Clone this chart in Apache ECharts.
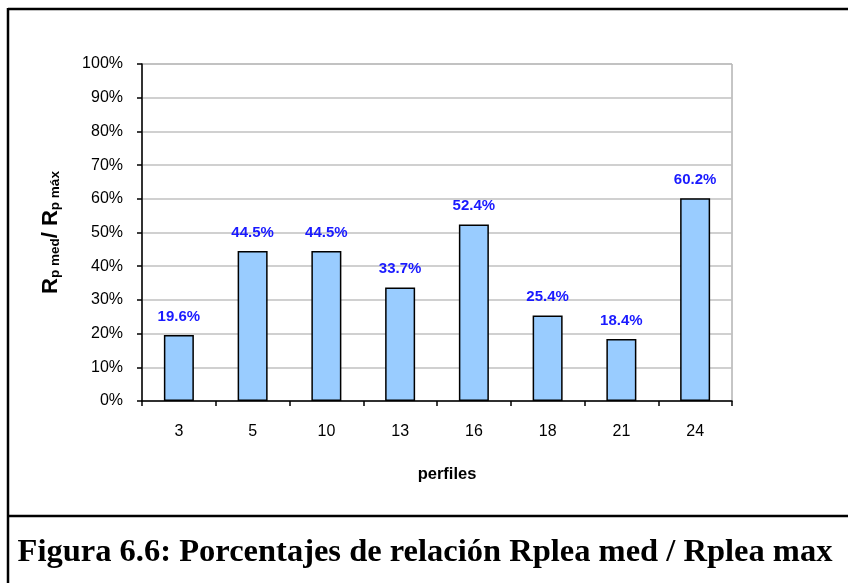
<!DOCTYPE html>
<html>
<head>
<meta charset="utf-8">
<script src="https://cdn.jsdelivr.net/npm/echarts@6/dist/echarts.min.js"></script>
<style>
html,body{margin:0;padding:0;background:#fff;}
#c{width:848px;height:583px;}
</style>
</head>
<body>
<div id="c"></div>
<script>
const categories = ['3', '5', '10', '13', '16', '18', '21', '24'];
const ratioValues = [19.6, 44.5, 44.5, 33.7, 52.4, 25.4, 18.4, 60.2];
const yTickMax = 100;
const yTickInterval = 10;
const xAxisTitle = 'perfiles';
const caption = 'Figura 6.6: Porcentajes de relación Rplea med / Rplea max';

const chart = echarts.init(document.getElementById('c'), null, {renderer: 'canvas'});
chart.setOption({
  animation: false,
  backgroundColor: '#ffffff',
  grid: {left: 142, top: 64, right: 116, bottom: 182, show: true, borderColor: '#8c8c8c', borderWidth: 1, backgroundColor: 'transparent'},
  xAxis: {
    type: 'category',
    data: categories,
    boundaryGap: true,
    axisLine: {lineStyle: {color: '#000', width: 1.5}},
    axisTick: {show: true, length: 5, inside: false, lineStyle: {color: '#000', width: 1.5}},
    axisLabel: {color: '#000', fontFamily: 'Liberation Sans', fontSize: 16, margin: 23},
    name: xAxisTitle,
    nameLocation: 'middle',
    nameGap: 65,
    nameTextStyle: {color: '#000', fontFamily: 'Liberation Sans', fontSize: 16.5, fontWeight: 'bold', padding: [0, 0, 0, 20]}
  },
  yAxis: {
    type: 'value',
    min: 0,
    max: yTickMax,
    interval: yTickInterval,
    axisLine: {show: true, lineStyle: {color: '#000', width: 1.5}},
    axisTick: {show: true, length: 5, lineStyle: {color: '#000', width: 1.5}},
    axisLabel: {color: '#000', fontFamily: 'Liberation Sans', fontSize: 16, margin: 19, formatter: v => v + '%'},
    splitLine: {show: true, lineStyle: {color: '#c0c0c0', width: 1.5}},
    name: '{a|R}{s|p med}{a|/ R}{s|p máx}',
    nameLocation: 'middle',
    nameRotate: 90,
    nameGap: 80,
    nameTextStyle: {
      color: '#000', fontFamily: 'Liberation Sans', fontWeight: 'bold',
      rich: {
        a: {fontSize: 22, fontWeight: 'bold', fontFamily: 'Liberation Sans', color: '#000', lineHeight: 26, verticalAlign: 'bottom'},
        s: {fontSize: 13.5, fontWeight: 'bold', fontFamily: 'Liberation Sans', color: '#000', lineHeight: 26, verticalAlign: 'bottom', padding: [10, 0, 0, 0]}
      }
    }
  },
  series: [{
    type: 'bar',
    data: ratioValues,
    barWidth: 30,
    itemStyle: {color: '#99ccff', borderColor: '#000', borderWidth: 1.5},
    label: {
      show: true, position: 'top', distance: 11,
      color: '#1a1aff', fontFamily: 'Liberation Sans', fontSize: 15, fontWeight: 'bold',
      formatter: p => p.value.toFixed(1) + '%'
    }
  }],
  graphic: [
    {type: 'line', shape: {x1: 8, y1: 9, x2: 848, y2: 9}, style: {stroke: '#000', lineWidth: 2.5}},
    {type: 'line', shape: {x1: 8, y1: 8, x2: 8, y2: 583}, style: {stroke: '#000', lineWidth: 2.5}},
    {type: 'line', shape: {x1: 8, y1: 516, x2: 848, y2: 516}, style: {stroke: '#000', lineWidth: 2.5}},
    {type: 'text', x: 425, y: 553, style: {text: caption, fill: '#000', font: 'bold 32.5px "Liberation Serif"', textAlign: 'center', textVerticalAlign: 'middle'}}
  ]
});
</script>
</body>
</html>
